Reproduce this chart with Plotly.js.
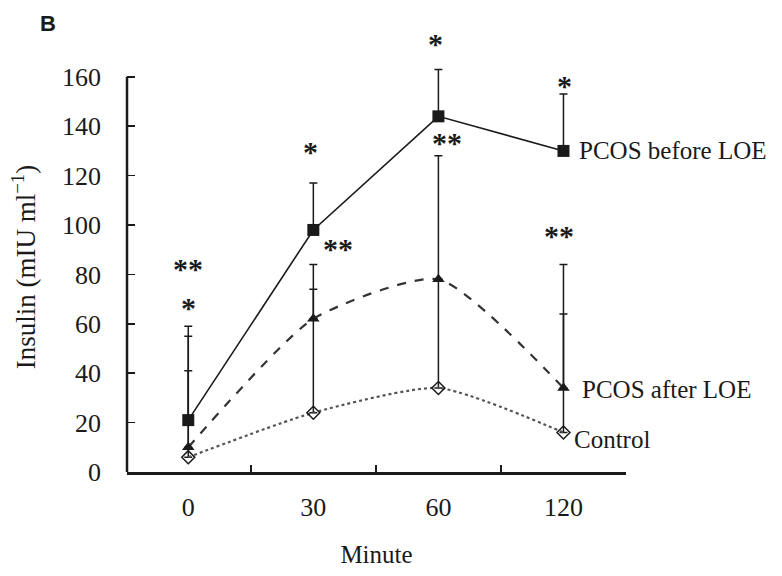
<!DOCTYPE html>
<html>
<head>
<meta charset="utf-8">
<script src="https://cdn.plot.ly/plotly-3.0.1.min.js"></script>
<style>
  html, body { margin: 0; padding: 0; background: #fff; }
  #chart { width: 782px; height: 576px; }
</style>
</head>
<body>
<div id="chart"></div>
<script>
// ---- data ----
const minutes = ['0', '30', '60', '120'];

const seriesNames = ['PCOS before LOE', 'PCOS after LOE', 'Control'];

const beforeMean = [21, 98, 144, 130];
const beforeErr  = [38, 19, 19, 23];

const afterMean  = [10, 62, 78, 34];
const afterErr   = [45, 22, 50, 50];

const controlMean = [6, 24, 34, 16];
const controlErr  = [35, 50, 44, 48];

// significance marks: category index, value level, text
const starCat  = [0, 0, 1, 1, 2, 2, 3, 3];
const starY    = [83, 67, 130, 91, 174, 134, 157, 96];
const starText = ['**', '*', '*', '**', '*', '**', '*', '**'];
const starDx   = [0, 0, -3, 25, -3, 9, 1, -4];

const yTicks = [0, 20, 40, 60, 80, 100, 120, 140, 160];

// ---- drawing ----
const serif = 'Liberation Serif, Times New Roman, serif';
const ink = '#1a1a1a';
const yMax = 166;          // a little head-room so the 60-min cap is not clipped
const axisTop = yTicks[yTicks.length - 1];

function errBar(arr) {
  return {
    type: 'data', symmetric: false, array: arr,
    arrayminus: arr.map(() => 0),
    color: ink, thickness: 1.5, width: 4
  };
}

const traces = [
  {
    x: minutes, y: controlMean, name: seriesNames[2], type: 'scatter', mode: 'lines+markers',
    line: { color: '#555', width: 2.2, dash: 'dot', shape: 'spline', smoothing: 0.6 },
    marker: { symbol: 'diamond-open', size: 10, color: ink, line: { width: 1.5, color: ink } },
    error_y: errBar(controlErr), cliponaxis: false
  },
  {
    x: minutes, y: afterMean, name: seriesNames[1], type: 'scatter', mode: 'lines+markers',
    line: { color: '#333', width: 2.2, dash: 'dash', shape: 'spline', smoothing: 0.6 },
    marker: { symbol: 'triangle-up', size: 11, color: ink },
    error_y: errBar(afterErr), cliponaxis: false
  },
  {
    x: minutes, y: beforeMean, name: seriesNames[0], type: 'scatter', mode: 'lines+markers',
    line: { color: ink, width: 1.6 },
    marker: { symbol: 'square', size: 12, color: ink },
    error_y: errBar(beforeErr), cliponaxis: false
  }
];

const annotations = [];
for (let i = 0; i < starText.length; i++) {
  annotations.push({
    x: starCat[i], y: starY[i] / yMax, xref: 'x', yref: 'paper',
    text: '<b>' + starText[i] + '</b>', showarrow: false,
    xanchor: 'center', yanchor: 'middle', xshift: starDx[i], yshift: -1,
    font: { family: serif, size: 30, color: ink }
  });
}
// series labels at the last time point
const lastIdx = minutes.length - 1;
const labelY = [beforeMean[lastIdx], afterMean[lastIdx], controlMean[lastIdx]];
const labelDx = [14, 17, 9];
const labelDy = [0, -1, -7];
for (let i = 0; i < seriesNames.length; i++) {
  annotations.push({
    x: lastIdx, y: labelY[i], xref: 'x', yref: 'y',
    text: seriesNames[i], showarrow: false,
    xanchor: 'left', yanchor: 'middle', xshift: labelDx[i], yshift: labelDy[i],
    font: { family: serif, size: 25, color: ink }
  });
}
annotations.push({
  x: -0.158, y: 1.094, xref: 'paper', yref: 'paper', text: '<b>B</b>',
  showarrow: false, xanchor: 'center', yanchor: 'middle',
  font: { family: 'Liberation Sans, Arial, sans-serif', size: 22, color: ink }
});

const layout = {
  width: 782, height: 576,
  margin: { l: 127, r: 156, t: 62, b: 104, pad: 0 },
  paper_bgcolor: '#fff', plot_bgcolor: '#fff',
  showlegend: false,
  xaxis: {
    type: 'category', range: [-0.49, 3.5],
    showline: true, linecolor: ink, linewidth: 2.5,
    showgrid: false, zeroline: false,
    ticks: 'inside', tickson: 'boundaries', ticklen: 7, tickwidth: 1.5, tickcolor: ink,
    tickfont: { family: serif, size: 26, color: ink },
    ticklabelstandoff: 10,
    title: { text: 'Minute', font: { family: serif, size: 25, color: ink }, standoff: 25 }
  },
  yaxis: {
    range: [0, yMax], tickvals: yTicks, ticktext: yTicks.map(String),
    showline: false,
    showgrid: false, zeroline: false,
    ticks: 'inside', ticklen: 8, tickwidth: 1.5, tickcolor: ink,
    tickfont: { family: serif, size: 26, color: ink },
    ticklabelstandoff: 25,
    title: { text: 'Insulin (mIU ml<sup>−1</sup>)', font: { family: serif, size: 27, color: ink }, standoff: 18 }
  },
  shapes: [{
    type: 'line', xref: 'paper', yref: 'y', x0: 0, x1: 0, y0: 0, y1: axisTop,
    line: { color: ink, width: 2.5 }
  }],
  annotations: annotations
};

Plotly.newPlot('chart', traces, layout, { displayModeBar: false, staticPlot: true });
</script>
</body>
</html>
